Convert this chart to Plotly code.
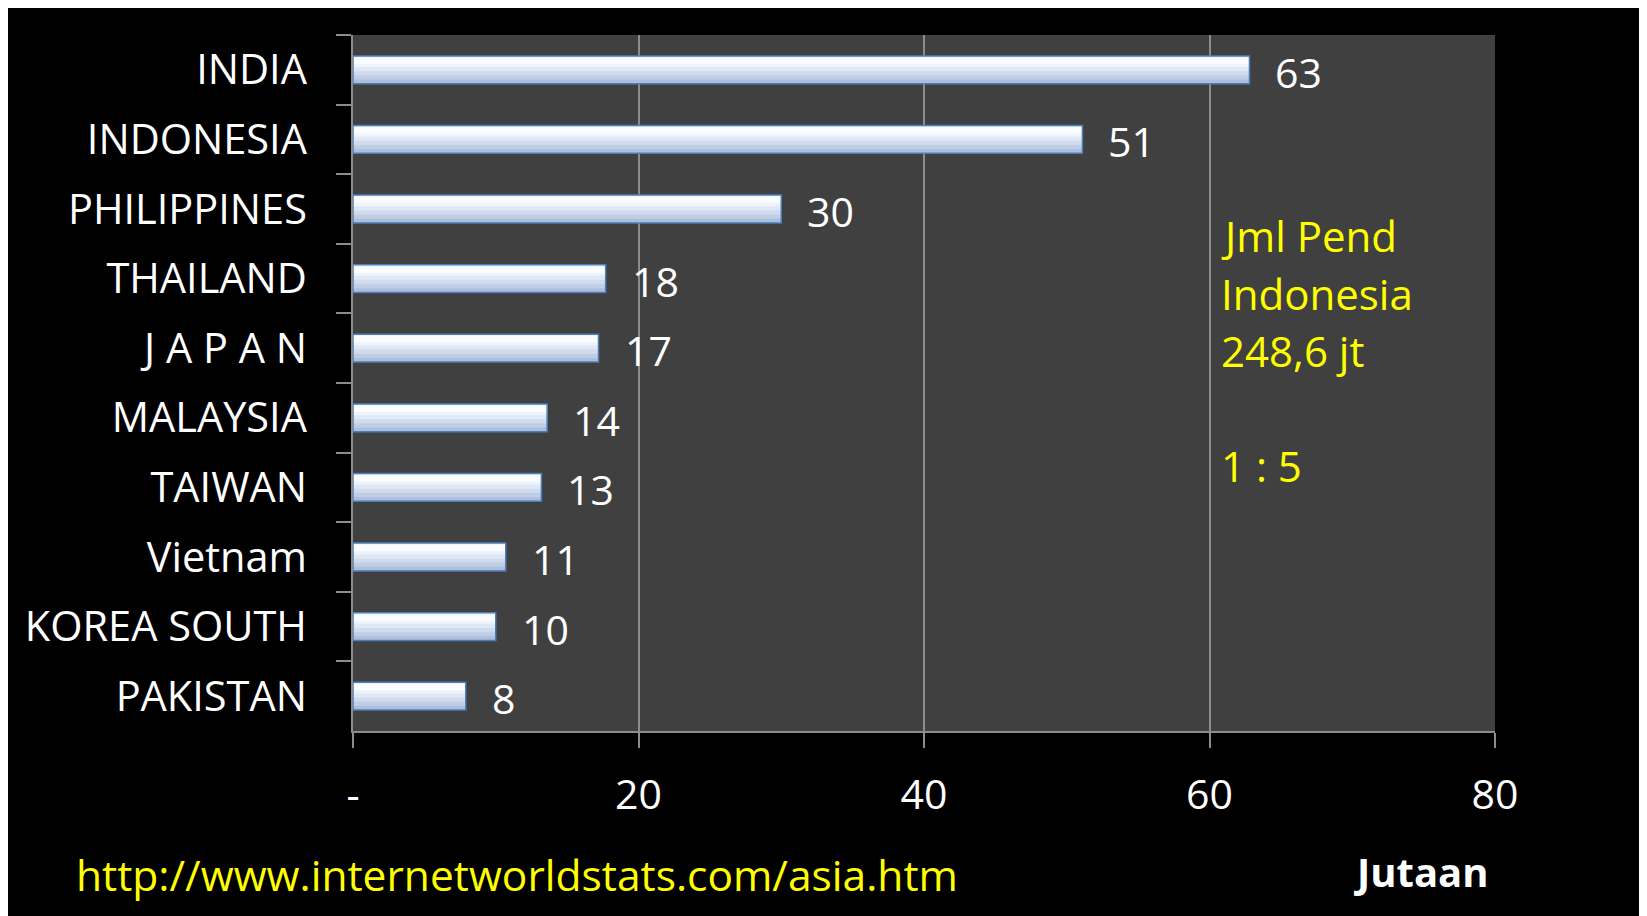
import plotly.graph_objects as go

countries = ["INDIA", "INDONESIA", "PHILIPPINES", "THAILAND", "J A P A N",
             "MALAYSIA", "TAIWAN", "Vietnam", "KOREA SOUTH", "PAKISTAN"]
users = [62.8, 51.1, 30.0, 17.7, 17.2, 13.6, 13.2, 10.7, 10.0, 7.9]
tick_vals = [0, 20, 40, 60, 80]
tick_text = ["-", "20", "40", "60", "80"]
note_lines = ["Jml Pend", "Indonesia", "248,6 jt", "", "1 : 5"]
source_url = "http://www.internetworldstats.com/asia.htm"
unit_label = "Jutaan"

OFF = 8  # page body margin
W, H = 1647, 916
L, R, T, B = 353 - OFF, 1495 - OFF, 35 - OFF, 731 - OFF
PW, PH = R - L, B - T

def px_x(x):
    return (x - OFF - L) / PW

def px_y(y):
    return (B - (y - OFF)) / PH

FONT = "Open Sans"
GRID = "#8c8c8c"

fig = go.Figure()

# bar layers to mimic the gradient fill
layers = [
    (-0.20, 0.40, "#aebfdc"),
    (-0.20, 0.34, "#bfcde5"),
    (-0.20, 0.28, "#d0dbee"),
    (-0.20, 0.22, "#e1e8f5"),
    (-0.19, 0.15, "#eff3fa"),
    (-0.175, 0.09, "#fafcff"),
]
for off, wd, col in layers:
    fig.add_trace(go.Bar(x=users, y=countries, orientation="h", offset=off, width=wd,
                         marker=dict(color=col, line=dict(width=0)),
                         hoverinfo="skip", showlegend=False))
fig.add_trace(go.Bar(x=users, y=countries, orientation="h", offset=-0.20, width=0.40,
                     marker=dict(color="rgba(0,0,0,0)", line=dict(color="#4a7ebb", width=1.5)),
                     showlegend=False))

annotations = []
for c, v in zip(countries, users):
    annotations.append(dict(x=v, y=c, xref="x", yref="y", text=f"{v:.0f}", showarrow=False,
                            xanchor="left", yanchor="middle", xshift=24, yshift=-2,
                            font=dict(family=FONT, size=41, color="white")))

note_y = [235, 293, 351, 409, 466]
for line, yy in zip(note_lines, note_y):
    if line:
        annotations.append(dict(x=px_x(1219), y=px_y(yy), xref="paper", yref="paper",
                                text=line, showarrow=False, xanchor="left", yanchor="middle",
                                font=dict(family=FONT, size=42, color="#ffff00")))

annotations.append(dict(x=px_x(74), y=px_y(874), xref="paper", yref="paper",
                        text=source_url, showarrow=False, xanchor="left", yanchor="middle",
                        font=dict(family=FONT, size=42.5, color="#ffff00")))
annotations.append(dict(x=px_x(1421), y=px_y(871), xref="paper", yref="paper",
                        text="<b>" + unit_label + "</b>", showarrow=False,
                        xanchor="center", yanchor="middle",
                        font=dict(family=FONT, size=40, color="white")))

fig.update_layout(
    width=W, height=H,
    margin=dict(l=L, r=W - R, t=T, b=H - B, pad=0),
    paper_bgcolor="black", plot_bgcolor="#404040",
    barmode="overlay", showlegend=False,
    annotations=annotations,
    font=dict(family=FONT, color="white"),
)
fig.update_xaxes(range=[0, 80], tickvals=tick_vals, ticktext=tick_text,
                 showgrid=True, gridcolor=GRID, gridwidth=1.5,
                 showline=True, linecolor=GRID, linewidth=1.5,
                 ticks="outside", ticklen=15, tickcolor=GRID, tickwidth=1.5,
                 zeroline=False, ticklabelstandoff=12,
                 tickfont=dict(family=FONT, size=41, color="white"))
fig.update_yaxes(type="category", range=[9.5, -0.5], tickson="boundaries",
                 showgrid=False, showline=True, linecolor=GRID, linewidth=1.5,
                 ticks="outside", ticklen=15, tickcolor=GRID, tickwidth=1.5,
                 ticklabelstandoff=36,
                 tickfont=dict(family=FONT, size=41.5, color="white"))

fig.write_html("out.html")
